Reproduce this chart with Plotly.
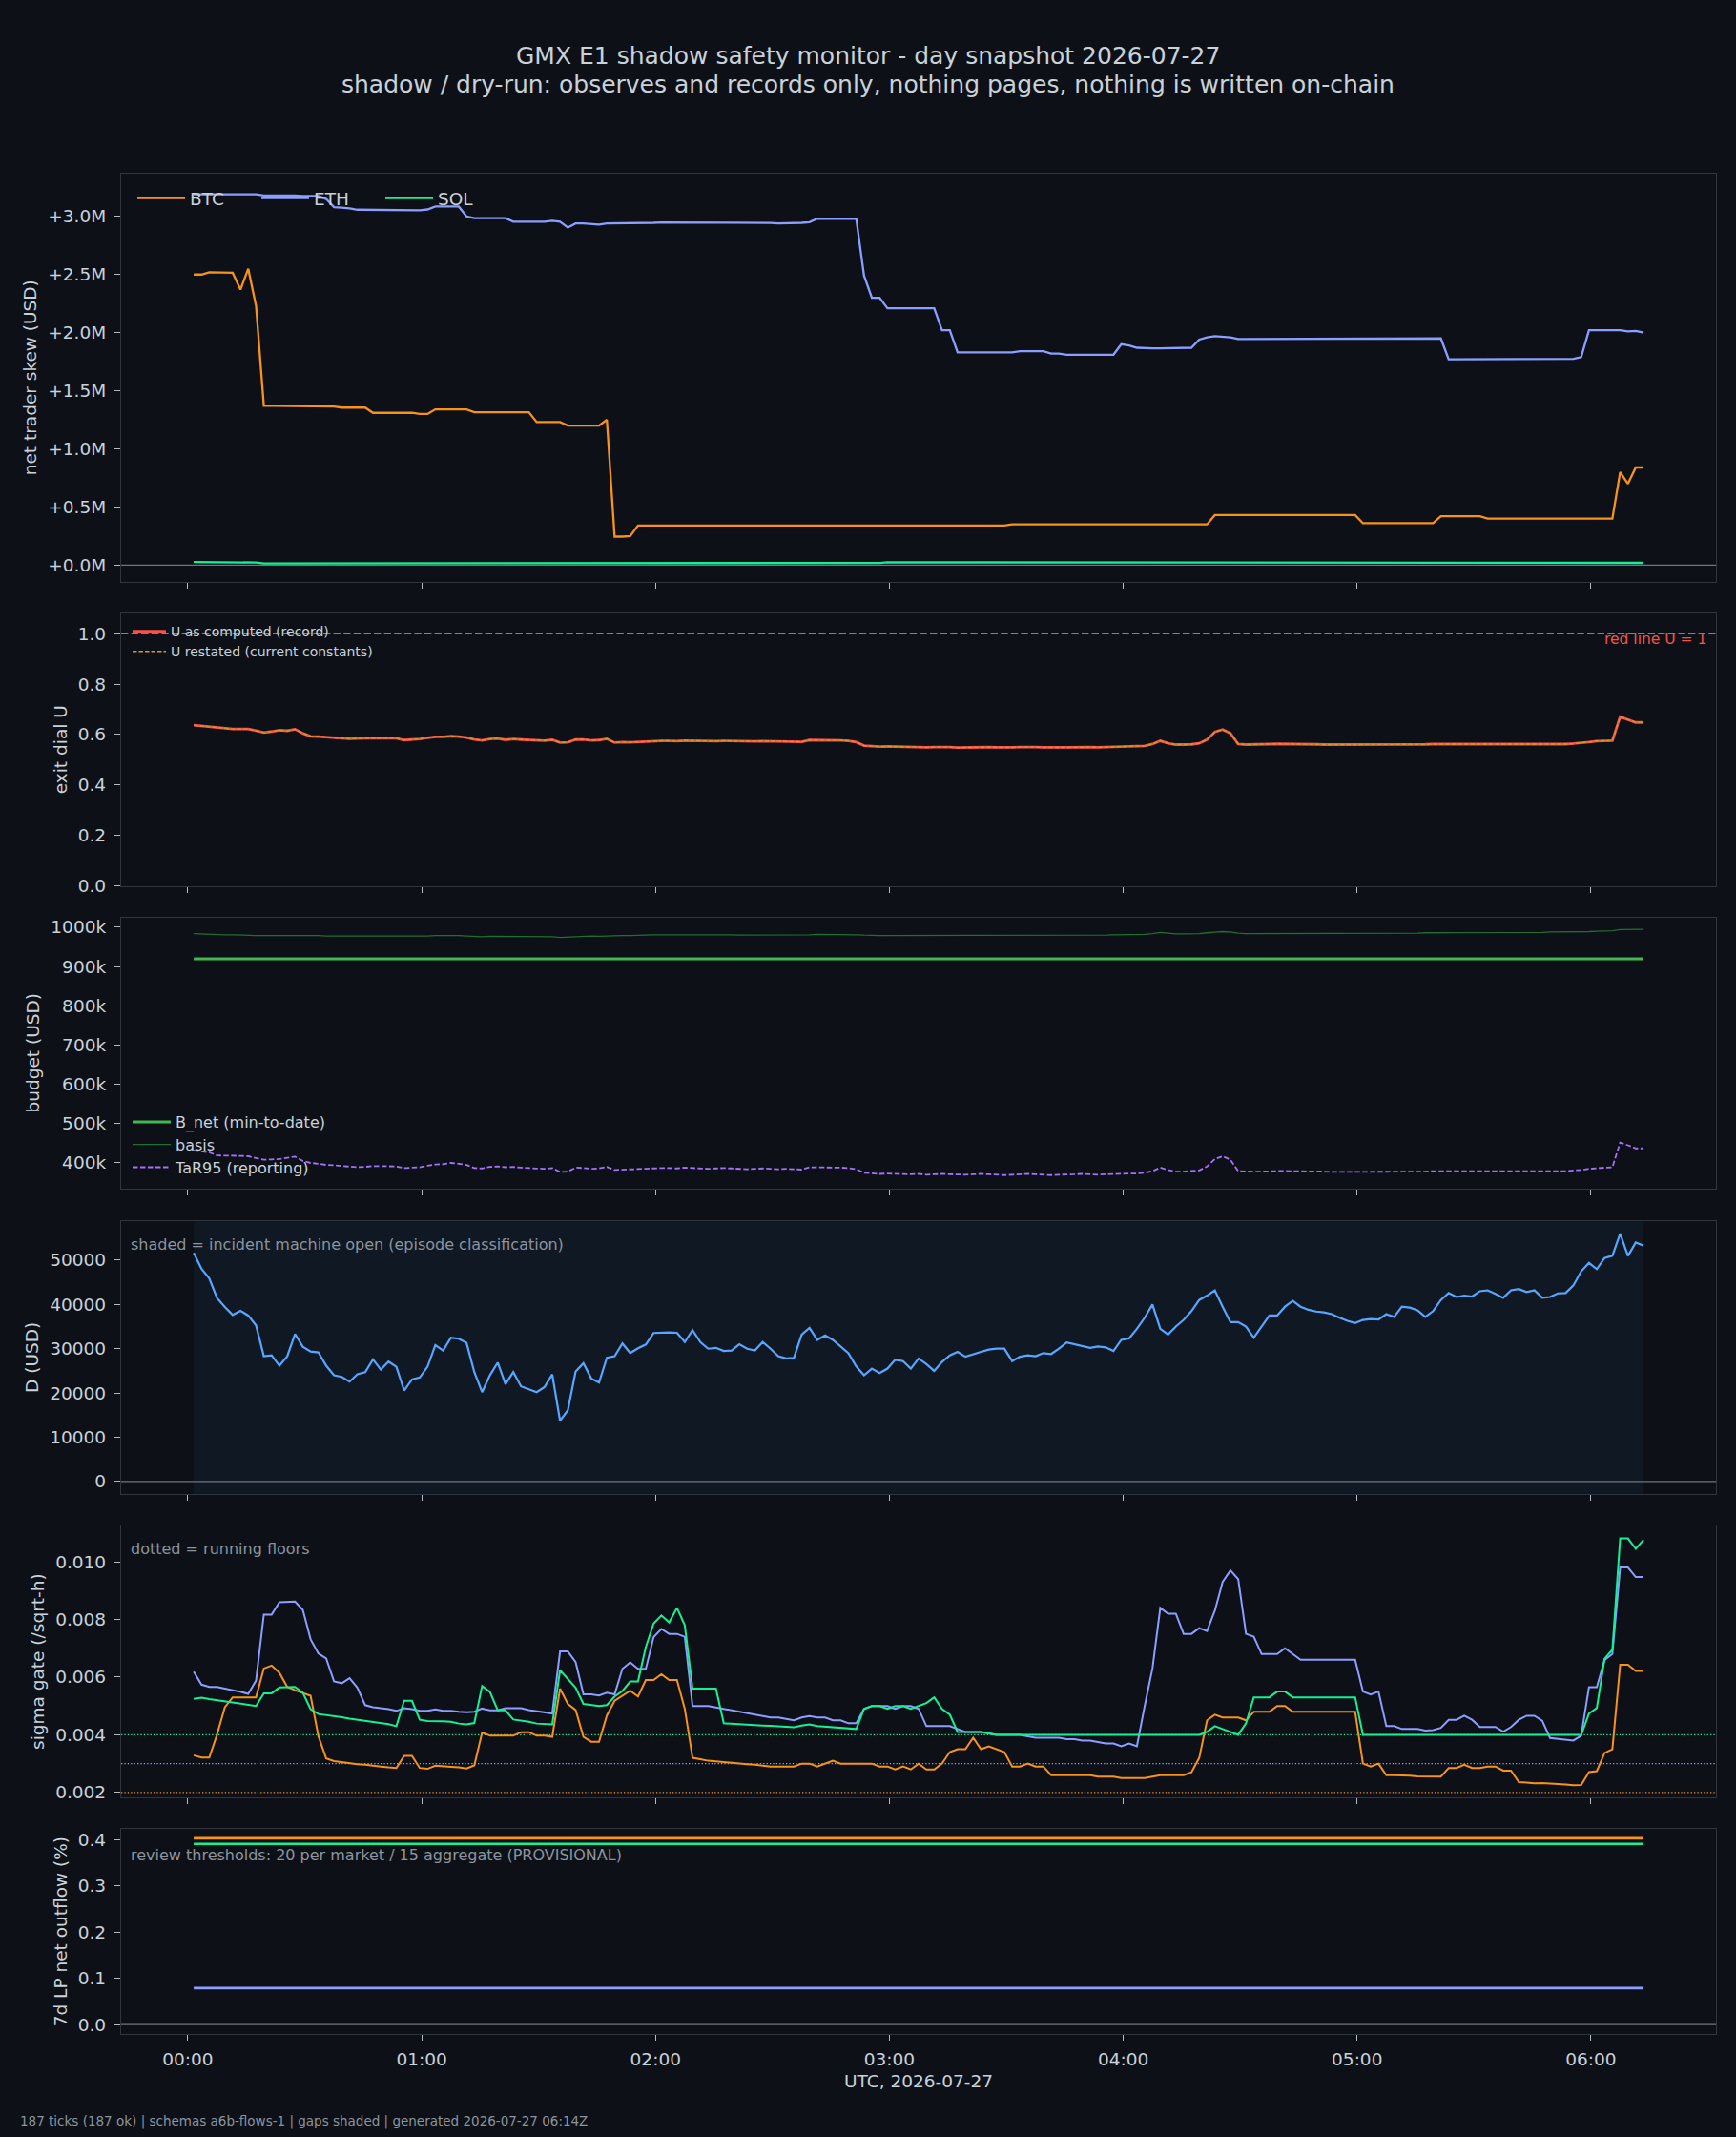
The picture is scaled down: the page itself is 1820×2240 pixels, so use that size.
import pandas as pd
import plotly.graph_objects as go
from plotly.subplots import make_subplots

# ---------------- data ----------------
TICK_START = "2026-07-27 00:01:30"
TICK_COUNT = 187
TICK_STEP = "2min"
TIMES = pd.date_range(TICK_START, periods=TICK_COUNT, freq=TICK_STEP)

X_RANGE = ["2026-07-26 23:42:53", "2026-07-27 06:32:05"]
HOUR_TICKS = ["2026-07-27 00:00", "2026-07-27 01:00", "2026-07-27 02:00", "2026-07-27 03:00",
              "2026-07-27 04:00", "2026-07-27 05:00", "2026-07-27 06:00"]
HOUR_LABELS = ["00:00", "01:00", "02:00", "03:00", "04:00", "05:00", "06:00"]

MARKETS = ["BTC", "ETH", "SOL"]

# net trader skew, millions of USD
BTC_SKEW_M = ([2.50, 2.50, 2.52, 2.52, 2.52, 2.515, 2.37, 2.55, 2.23, 1.37]
              + [1.37] * 7 + [1.365] * 2 + [1.355] * 4 + [1.31] * 6 + [1.30] * 2
              + [1.34] * 5 + [1.315] * 8 + [1.23] * 4 + [1.20] * 5 + [1.25]
              + [0.245, 0.245, 0.25] + [0.34] * 48 + [0.35] * 9 + [0.345] * 9
              + [0.35] * 8 + [0.43] * 19 + [0.36] * 10 + [0.42] * 6 + [0.40] * 17
              + [0.80, 0.70, 0.84, 0.84])
ETH_SKEW_M = ([3.19] * 9 + [3.18, 3.18, 3.18, 3.185, 3.18] + [3.175] * 3 + [3.15]
              + [3.08, 3.075, 3.07] + [3.058] * 6 + [3.053] * 3 + [3.06] + [3.085] * 4
              + [3.00] + [2.985] * 5 + [2.955] * 5 + [2.962, 2.955, 2.905]
              + [2.94, 2.94, 2.935, 2.93]
              + [2.94, 2.94, 2.94, 2.942, 2.945, 2.945, 2.945, 2.948, 2.948, 2.948,
                 2.947, 2.947, 2.947, 2.946, 2.946, 2.946, 2.945, 2.945, 2.945, 2.944,
                 2.944, 2.944, 2.94, 2.94, 2.945, 2.945, 2.95]
              + [2.98] * 6 + [2.49] + [2.30, 2.30] + [2.21] * 7 + [2.02, 2.02]
              + [1.83] * 8 + [1.84] * 4 + [1.82] * 2 + [1.81] * 7 + [1.90, 1.89]
              + [1.87, 1.865, 1.865, 1.865, 1.865, 1.865, 1.87, 1.87]
              + [1.94, 1.96, 1.97, 1.965, 1.96] + [1.945] * 5 + [1.95] * 22
              + [1.77] * 16 + [1.775, 1.79] + [2.02] * 5 + [2.01, 2.015, 2.00])
SOL_SKEW_M = [0.027] * 5 + [0.022] * 4 + [0.014] * 37 + [0.018] * 43 + [0.024] * 42 + [0.019] * 56

SKEW_TICKS = [0.0, 0.5, 1.0, 1.5, 2.0, 2.5, 3.0]
SKEW_LABELS = ["+0.0M", "+0.5M", "+1.0M", "+1.5M", "+2.0M", "+2.5M", "+3.0M"]

# exit dial U
U_RECORD = ([0.637, 0.634, 0.631, 0.626, 0.624, 0.622, 0.622, 0.622, 0.615, 0.608,
             0.612, 0.617, 0.615, 0.621, 0.605, 0.593, 0.592, 0.589, 0.587, 0.585,
             0.583, 0.584, 0.586, 0.586, 0.585, 0.586, 0.585, 0.578, 0.580, 0.582,
             0.587, 0.591, 0.591, 0.594, 0.592, 0.588, 0.580, 0.577, 0.582, 0.584,
             0.579, 0.582, 0.580, 0.578, 0.577, 0.576, 0.579, 0.568, 0.569, 0.580,
             0.580, 0.577, 0.578, 0.583, 0.568, 0.570, 0.569, 0.571, 0.573, 0.575,
             0.575]
            + [0.575, 0.574, 0.576, 0.575, 0.574, 0.573, 0.574, 0.575, 0.574, 0.573,
               0.572, 0.573, 0.574, 0.573, 0.572, 0.573, 0.572, 0.571]
            + [0.578, 0.578, 0.577, 0.578, 0.577, 0.575, 0.570]
            + [0.556, 0.553, 0.552, 0.553, 0.552]
            + [0.551, 0.550, 0.551, 0.549, 0.550, 0.551, 0.550, 0.548, 0.549, 0.550,
               0.551, 0.550, 0.549, 0.548, 0.549, 0.550, 0.551, 0.550, 0.549, 0.548,
               0.549, 0.549, 0.550, 0.551, 0.550, 0.549, 0.550, 0.551, 0.552, 0.553,
               0.552]
            + [0.555, 0.562, 0.575, 0.565, 0.560, 0.560, 0.561, 0.565, 0.580, 0.610,
               0.620, 0.605, 0.562, 0.560]
            + [0.560, 0.561, 0.562, 0.563, 0.563, 0.562, 0.562, 0.561, 0.561, 0.560,
               0.560, 0.559, 0.559, 0.560, 0.560, 0.560, 0.561, 0.561, 0.560, 0.559,
               0.560, 0.560, 0.561, 0.562, 0.562, 0.561, 0.561, 0.562, 0.562, 0.561,
               0.561, 0.560, 0.561, 0.561, 0.562, 0.561, 0.561, 0.560, 0.560, 0.561,
               0.562, 0.564, 0.566, 0.570, 0.574, 0.575]
            + [0.576, 0.670, 0.660, 0.648, 0.648])
U_RESTATED = list(U_RECORD)  # overlaps the record exactly in the picture
U_RED_LINE = 1.0
U_TICKS = [0.0, 0.2, 0.4, 0.6, 0.8, 1.0]

# budget, thousands of USD
B_NET_K = [920] * TICK_COUNT
BASIS_K = ([984, 983, 982, 982, 981, 981, 980, 980, 979, 979,
            979, 979, 980, 980, 979, 979, 979, 978, 978, 978,
            978, 978, 978, 978, 978, 978, 977, 977, 977, 977,
            978, 979, 979, 980, 979, 978, 977, 976, 977, 977,
            977, 976, 976, 976, 976, 976, 976, 974, 975, 977,
            978, 978, 977, 978, 978, 979, 979, 980, 980, 981,
            981]
           + [981, 981, 982, 982, 982, 981, 981, 981, 981, 980,
              980, 980, 981, 981, 981, 981, 980, 980, 981, 982,
              982, 982, 982, 981, 981, 980, 979, 979, 979, 979]
           + [979, 979, 979, 979, 979, 979, 979, 979, 980, 980,
              980, 980, 980, 980, 980, 980, 980, 980, 980, 980,
              980, 980, 980, 980, 980, 980, 980, 981, 981, 981,
              981]
           + [982, 984, 987, 985, 983, 983, 983, 984, 986, 988, 989, 988, 985, 984]
           + [984, 984, 984, 984, 984, 984, 984, 984, 984, 984,
              984, 985, 985, 985, 985, 985, 985, 985, 985, 985,
              985, 985, 986, 986, 986, 986, 986, 986, 986, 986,
              987, 987, 987, 987, 987, 987, 987, 987, 988, 988,
              988, 988, 989, 989, 990, 991]
           + [991, 994, 994, 995, 995])
TAR95_K = ([432, 430, 427, 419, 419, 418, 418, 417, 412, 408,
            409, 410, 413, 416, 405, 400, 398, 395, 394, 392,
            390, 389, 390, 392, 392, 391, 391, 387, 388, 389,
            393, 396, 397, 400, 398, 395, 387, 386, 390, 391,
            389, 390, 388, 387, 386, 385, 387, 377, 378, 388,
            387, 385, 386, 390, 382, 383, 384, 384, 386, 387,
            387]
           + [387, 386, 388, 387, 386, 385, 386, 387, 386, 385,
              384, 385, 386, 385, 384, 385, 384, 383]
           + [389, 389, 388, 389, 388, 387, 384]
           + [375, 373, 372, 373, 372]
           + [372, 371, 372, 370, 371, 372, 371, 370, 370, 371,
              372, 371, 370, 369, 370, 371, 372, 371, 370, 369,
              370, 370, 371, 372, 371, 370, 371, 372, 373, 373,
              373]
           + [375, 379, 388, 382, 378, 378, 379, 381, 391, 410, 417, 408, 379, 378]
           + [378, 378, 379, 380, 380, 379, 379, 378, 378, 378,
              377, 377, 377, 378, 378, 378, 378, 378, 378, 377,
              378, 378, 378, 379, 379, 378, 378, 379, 379, 378,
              378, 378, 378, 378, 379, 378, 378, 378, 378, 378,
              379, 381, 382, 385, 387, 388]
           + [389, 452, 445, 437, 437])
BUDGET_TICKS = [400, 500, 600, 700, 800, 900, 1000]
BUDGET_LABELS = ["400k", "500k", "600k", "700k", "800k", "900k", "1000k"]

# D (USD)
D_USD = [51650, 48060, 45900, 41450, 39440, 37640, 38580, 37500, 35270, 28300,
         28520, 26150, 28300, 33330, 30460, 29380, 29170, 26150, 24000, 23640,
         22560, 24210, 24710, 27590, 25290, 27080, 25930, 20550, 23060, 23490,
         25930, 30820, 29600, 32470, 32260, 31320, 24710, 20190, 23990, 26870,
         21980, 24710, 21480, 20900, 20190, 21340, 24210, 13720, 16090, 24860,
         26720, 23280, 22340, 27950, 28300, 31180, 29020, 30100, 30960, 33550,
         33690,
         33700, 33600, 31500, 34200, 31500, 30000, 30200, 29500, 29600, 31000,
         30000, 29600, 31500, 30000, 28300, 27800, 27900, 33200, 34700, 32000,
         33000, 32000, 30500, 29000, 26000, 24000, 25500, 24500, 25500, 27500,
         27200, 25500, 27800, 26500, 25000, 27000, 28500, 29300, 28200, 28800,
         29300, 29800, 30000, 30000, 27200, 28200, 28500, 28300, 29000, 28800,
         30000, 31400, 31000, 30500, 30200, 30500, 30300, 29500, 32000, 32300,
         34500, 37000, 40000, 34500, 33200, 35000, 36500, 38500, 41000, 42000,
         43200, 39500, 36000, 36000, 35000, 32500, 35000, 37500, 37500, 39500,
         40800, 39500, 38800, 38400, 38200, 37800, 37000, 36300, 35800, 36500,
         36700, 36600, 37800, 37200, 39500, 39300, 38700, 37200, 38500, 41000,
         42600, 41700, 42000, 41800, 43000, 43200, 42400, 41500, 43200, 43500,
         42800, 43200, 41500, 41700, 42500, 42600, 44300, 47500, 49400, 48000,
         50500, 51000, 56000, 51000, 54000, 53300]
D_TICKS = [0, 10000, 20000, 30000, 40000, 50000]

# sigma gate (/sqrt-h)
BTC_SIGMA = ([0.00329, 0.00321, 0.00321, 0.00401, 0.00496, 0.00530, 0.00530, 0.00530, 0.00530, 0.00630,
              0.00640, 0.00615, 0.00566, 0.00555, 0.00544, 0.00535, 0.00395, 0.00318, 0.00309, 0.00305,
              0.00301, 0.00298, 0.00296, 0.00294, 0.00290, 0.00287, 0.00285, 0.00327, 0.00327, 0.00285,
              0.00282, 0.00293, 0.00290, 0.00289, 0.00287, 0.00283, 0.00294, 0.00408, 0.00397, 0.00397,
              0.00397, 0.00397, 0.00409, 0.00409, 0.00397, 0.00397, 0.00393, 0.00560, 0.00507, 0.00486,
              0.00393, 0.00376, 0.00376, 0.00467, 0.00518, 0.00536, 0.00553, 0.00533, 0.00590, 0.00590,
              0.00610]
             + [0.0059, 0.0059, 0.0049, 0.0032, 0.00315, 0.0031, 0.00308, 0.00305, 0.00303, 0.0030,
                0.00298, 0.00296, 0.00293, 0.0029, 0.0029, 0.0029, 0.0029, 0.0030, 0.0030, 0.0029,
                0.0030, 0.0031, 0.0030, 0.0030, 0.0030, 0.0030, 0.0030, 0.0029, 0.0029, 0.0028,
                0.0029, 0.0028, 0.0030, 0.0028, 0.0028, 0.0030, 0.0034, 0.0035, 0.0035, 0.0039,
                0.0035, 0.0036, 0.0035, 0.0034, 0.0029, 0.0029, 0.0030, 0.0029, 0.0029, 0.0026,
                0.0026, 0.0026, 0.0026, 0.0026, 0.0026, 0.00255, 0.00255, 0.00255, 0.0025, 0.0025,
                0.0025, 0.0025, 0.00255, 0.0026, 0.0026, 0.0026, 0.0026, 0.0027, 0.0032, 0.0045,
                0.0047, 0.0046, 0.0046, 0.0046, 0.0045, 0.0048, 0.0048, 0.0048, 0.0050, 0.0050,
                0.0048, 0.0048, 0.0048, 0.0048, 0.0048, 0.0048, 0.0048, 0.0048, 0.0048, 0.0030,
                0.0029, 0.0030, 0.0026, 0.0026, 0.0026, 0.00258, 0.00256, 0.00256]
             + [0.00257, 0.00255, 0.00285, 0.00285, 0.00296, 0.00285, 0.00285, 0.0029, 0.0029, 0.00276,
                0.00276, 0.00236, 0.00234, 0.00232, 0.00233, 0.00232, 0.0023, 0.00228, 0.00225, 0.00226,
                0.00271, 0.00274, 0.00337, 0.0035, 0.00643, 0.00643, 0.00621, 0.00621])
ETH_SIGMA = ([0.00619, 0.00574, 0.00566, 0.00566, 0.00560, 0.00555, 0.00549, 0.00542, 0.00588, 0.00817,
              0.00817, 0.00860, 0.00860, 0.00862, 0.00833, 0.00731, 0.00682, 0.00665, 0.00585, 0.00579,
              0.00596, 0.00563, 0.00503, 0.00496, 0.00492, 0.00489, 0.00483, 0.00492, 0.00489, 0.00483,
              0.00483, 0.00488, 0.00483, 0.00483, 0.00480, 0.00478, 0.00480, 0.00491, 0.00485, 0.00485,
              0.00492, 0.00492, 0.00492, 0.00486, 0.00482, 0.00478, 0.00474, 0.00689, 0.00689, 0.00652,
              0.00540, 0.00540, 0.00536, 0.00546, 0.00540, 0.00629, 0.00651, 0.00629, 0.00629, 0.00739,
              0.00767]
             + [0.0075, 0.0075, 0.0074, 0.0050, 0.0050, 0.0050, 0.00495, 0.0049, 0.00485, 0.0048,
                0.00475, 0.0047, 0.00465, 0.0046, 0.0046, 0.00455, 0.0045, 0.0046, 0.00465, 0.0046,
                0.0046, 0.0045, 0.0045, 0.0044, 0.0044, 0.0049, 0.0050, 0.0050, 0.0050, 0.0049,
                0.0050, 0.0050, 0.0049, 0.0043, 0.0043, 0.0043, 0.0043, 0.0042, 0.0041, 0.0041,
                0.0041, 0.00405, 0.0040, 0.0040, 0.0040, 0.0040, 0.00395, 0.0039, 0.0039, 0.0039,
                0.0039, 0.00385, 0.00385, 0.0038, 0.0038, 0.00375, 0.0037, 0.0037, 0.0036, 0.0037,
                0.0036, 0.0050, 0.0063, 0.0084, 0.0082, 0.0082, 0.0075, 0.0075, 0.0077, 0.0076,
                0.0083, 0.0093, 0.0097, 0.0094, 0.0075, 0.0074, 0.0068, 0.0068, 0.0068, 0.0070,
                0.0068, 0.0066, 0.0066, 0.0066, 0.0066, 0.0066, 0.0066, 0.0066, 0.0066, 0.0055,
                0.0054, 0.0055, 0.0043, 0.0043, 0.0042, 0.0042, 0.0042, 0.00415]
             + [0.00416, 0.00424, 0.00452, 0.00452, 0.00466, 0.00452, 0.00427, 0.00427, 0.00427, 0.00411,
                0.00427, 0.00452, 0.00466, 0.00466, 0.00449, 0.00389, 0.00386, 0.00381, 0.00380, 0.00397,
                0.00565, 0.00565, 0.00660, 0.00680, 0.00980, 0.00980, 0.00947, 0.00947])
SOL_SIGMA = ([0.00525, 0.00529, 0.00524, 0.00520, 0.00516, 0.00511, 0.00507, 0.00505, 0.00500, 0.00544,
              0.00544, 0.00564, 0.00564, 0.00566, 0.00546, 0.00489, 0.00472, 0.00469, 0.00466, 0.00461,
              0.00456, 0.00452, 0.00447, 0.00444, 0.00441, 0.00437, 0.00430, 0.00518, 0.00518, 0.00452,
              0.00448, 0.00448, 0.00447, 0.00445, 0.00439, 0.00436, 0.00441, 0.00569, 0.00549, 0.00485,
              0.00485, 0.00453, 0.00450, 0.00445, 0.00439, 0.00437, 0.00436, 0.00624, 0.00593, 0.00563,
              0.00507, 0.00503, 0.00500, 0.00503, 0.00533, 0.00552, 0.00585, 0.00585, 0.00704, 0.00786,
              0.00814]
             + [0.0079, 0.0084, 0.0078, 0.0056, 0.0056, 0.0056, 0.0056, 0.0044, 0.00438, 0.00436,
                0.00435, 0.00434, 0.00432, 0.00431, 0.0043, 0.00428, 0.00426, 0.00432, 0.00436, 0.0043,
                0.00428, 0.00426, 0.00424, 0.00422, 0.0042, 0.0049, 0.0050, 0.0050, 0.0049, 0.0050,
                0.0050, 0.0049, 0.0050, 0.0051, 0.0053, 0.0049, 0.0047, 0.0041, 0.0041, 0.0041,
                0.0041, 0.00405, 0.0040, 0.0040, 0.0040, 0.0040, 0.0040, 0.0040, 0.0040, 0.0040,
                0.0040, 0.0040, 0.0040, 0.0040, 0.0040, 0.0040, 0.0040, 0.0040, 0.0040, 0.0040,
                0.0040, 0.0040, 0.0040, 0.0040, 0.0040, 0.0040, 0.0040, 0.0040, 0.0040, 0.0041,
                0.0043, 0.0042, 0.0041, 0.0040, 0.0044, 0.0053, 0.0053, 0.0053, 0.0055, 0.0055,
                0.0053, 0.0053, 0.0053, 0.0053, 0.0053, 0.0053, 0.0053, 0.0053, 0.0053, 0.0040,
                0.0040, 0.0040, 0.0040, 0.0040, 0.0040, 0.0040, 0.0040, 0.0040]
             + [0.0040] * 20
             + [0.00474, 0.00493, 0.00664, 0.00695, 0.01081, 0.01081, 0.01045, 0.01076])
SIGMA_FLOORS = {"BTC": 0.002, "ETH": 0.003, "SOL": 0.004}
SIGMA_TICKS = [0.002, 0.004, 0.006, 0.008, 0.010]

# 7d LP net outflow (%)
BTC_LP_OUT = [0.403] * TICK_COUNT
ETH_LP_OUT = [0.079] * TICK_COUNT
SOL_LP_OUT = [0.391] * TICK_COUNT
LP_TICKS = [0.0, 0.1, 0.2, 0.3, 0.4]

for name, arr in [("BTC_SKEW_M", BTC_SKEW_M), ("ETH_SKEW_M", ETH_SKEW_M), ("SOL_SKEW_M", SOL_SKEW_M),
                  ("U_RECORD", U_RECORD), ("BASIS_K", BASIS_K), ("TAR95_K", TAR95_K), ("D_USD", D_USD),
                  ("BTC_SIGMA", BTC_SIGMA), ("ETH_SIGMA", ETH_SIGMA), ("SOL_SIGMA", SOL_SIGMA)]:
    if len(arr) != TICK_COUNT:
        raise SystemExit("%s has %d values" % (name, len(arr)))

# ---------------- style ----------------
W, H = 1820, 2240
ML, MR, MT, MB = 127, 21, 181, 108
PLOT_W = W - ML - MR
PLOT_H = H - MT - MB

BG = "#0d1117"
FRAME = "#30363d"
TEXT = "#c9d1d9"
MUTED = "#8b949e"
TICKC = "#b1bac4"
FONT = "DejaVu Sans"
C = {"BTC": "#f7931a", "ETH": "#8c9eff", "SOL": "#14f195"}
RED = "#f85149"
GOLD = "#d29922"
BNET = "#3fb950"
BASIS = "#1f6f30"
TAR = "#a371f7"
DCOL = "#58a6ff"
ZERO = "#6e7681"


def px_x(x):
    return (x - ML) / PLOT_W


def px_y(y):
    return (H - MB - y) / PLOT_H


PANELS_PX = [(181.5, 610), (642.8, 928.7), (961.6, 1246), (1280, 1565.7), (1599, 1884.3), (1917.3, 2132)]

fig = make_subplots(rows=6, cols=1, shared_xaxes=True, vertical_spacing=0.01)

sk = {"BTC": BTC_SKEW_M, "ETH": ETH_SKEW_M, "SOL": SOL_SKEW_M}
for m in MARKETS:
    fig.add_trace(go.Scatter(x=TIMES, y=sk[m], mode="lines", name=m, legend="legend",
                             line=dict(color=C[m], width=2.3)), row=1, col=1)

fig.add_trace(go.Scatter(x=TIMES, y=U_RECORD, mode="lines", name="U as computed (record)",
                         legend="legend2", line=dict(color=RED, width=2.8)), row=2, col=1)
fig.add_trace(go.Scatter(x=TIMES, y=U_RESTATED, mode="lines", name="U restated (current constants)",
                         legend="legend2", line=dict(color=GOLD, width=1.4, dash="4.5px,2px")), row=2, col=1)

fig.add_trace(go.Scatter(x=TIMES, y=B_NET_K, mode="lines", name="B_net (min-to-date)",
                         legend="legend3", line=dict(color=BNET, width=3)), row=3, col=1)
fig.add_trace(go.Scatter(x=TIMES, y=BASIS_K, mode="lines", name="basis",
                         legend="legend3", line=dict(color=BASIS, width=1.3)), row=3, col=1)
fig.add_trace(go.Scatter(x=TIMES, y=TAR95_K, mode="lines", name="TaR95 (reporting)",
                         legend="legend3", line=dict(color=TAR, width=1.8, dash="5.5px,2.5px")), row=3, col=1)

fig.add_trace(go.Scatter(x=TIMES, y=D_USD, mode="lines", name="D", showlegend=False,
                         line=dict(color=DCOL, width=2.2)), row=4, col=1)

sg = {"BTC": BTC_SIGMA, "ETH": ETH_SIGMA, "SOL": SOL_SIGMA}
for m in MARKETS:
    fig.add_trace(go.Scatter(x=TIMES, y=sg[m], mode="lines", name=m + " sigma", showlegend=False,
                             line=dict(color=C[m], width=2.0)), row=5, col=1)

lp = {"BTC": BTC_LP_OUT, "ETH": ETH_LP_OUT, "SOL": SOL_LP_OUT}
for m in MARKETS:
    fig.add_trace(go.Scatter(x=TIMES, y=lp[m], mode="lines", name=m + " LP", showlegend=False,
                             line=dict(color=C[m], width=2.6)), row=6, col=1)

# reference lines / shading
def hline(row, y, color, width, dash="solid"):
    xr = "x domain" if row == 1 else "x%d domain" % row
    yr = "y" if row == 1 else "y%d" % row
    fig.add_shape(type="line", xref=xr, yref=yr, x0=0, x1=1, y0=y, y1=y, layer="below",
                  line=dict(color=color, width=width, dash=dash))

hline(1, 0, ZERO, 1.2)
fig.add_shape(type="rect", xref="x4", yref="y4 domain", x0=TIMES[0], x1=TIMES[-1], y0=0, y1=1,
              layer="below", line=dict(width=0), fillcolor="rgba(56,139,253,0.055)")
hline(4, 0, ZERO, 1.2)
for m in MARKETS:
    hline(5, SIGMA_FLOORS[m], C[m], 1.2, "1.3px,2.1px")
hline(6, 0, ZERO, 1.2)
fig.add_shape(type="line", xref="x2 domain", yref="y2", x0=0, x1=1, y0=U_RED_LINE, y1=U_RED_LINE,
              layer="above", line=dict(color=RED, width=2, dash="7.4px,3.2px"))

# axes
ax_common = dict(showgrid=False, zeroline=False, showline=True, mirror=True, linecolor=FRAME,
                 linewidth=1.3, ticks="outside", ticklen=6, tickwidth=1, tickcolor=TICKC,
                 tickfont=dict(family=FONT, size=18.5, color=TEXT))
y_specs = [
    dict(range=[-0.145, 3.372], tickvals=SKEW_TICKS, ticktext=SKEW_LABELS, title="net trader skew (USD)"),
    dict(range=[0, 1.0805], tickvals=U_TICKS, tickformat=".1f", title="exit dial U"),
    dict(range=[334.4, 1025.2], tickvals=BUDGET_TICKS, ticktext=BUDGET_LABELS, title="budget (USD)"),
    dict(range=[-2780, 58840], tickvals=D_TICKS, tickformat="d", title="D (USD)"),
    dict(range=[0.00182, 0.01126], tickvals=SIGMA_TICKS, tickformat=".3f", title="sigma gate (/sqrt-h)"),
    dict(range=[-0.0202, 0.4228], tickvals=LP_TICKS, tickformat=".1f", title="7d LP net outflow (%)"),
]
for i, (spec, (top, bot)) in enumerate(zip(y_specs, PANELS_PX)):
    n = "" if i == 0 else str(i + 1)
    title = spec.pop("title")
    fig.layout["yaxis" + n].update(domain=[px_y(bot), px_y(top)],
                                   title=dict(text=title, font=dict(family=FONT, size=18.5, color=TEXT),
                                              standoff=6),
                                   ticklabelstandoff=5, **ax_common, **spec)
    fig.layout["xaxis" + n].update(range=X_RANGE, type="date", tickvals=HOUR_TICKS, ticktext=HOUR_LABELS,
                                   showticklabels=(i == 5), ticklabelstandoff=4, **ax_common)
fig.layout.xaxis6.title = dict(text="UTC, 2026-07-27", font=dict(family=FONT, size=18.5, color=TEXT),
                               standoff=6)

# text
def note(text, x, y, size, color, xanchor="left"):
    fig.add_annotation(text=text, xref="paper", yref="paper", x=px_x(x), y=px_y(y), showarrow=False,
                       xanchor=xanchor, yanchor="middle", font=dict(family=FONT, size=size, color=color))

note("GMX E1 shadow safety monitor - day snapshot 2026-07-27", 910, 58, 25, TEXT, "center")
note("shadow / dry-run: observes and records only, nothing pages, nothing is written on-chain",
     910, 89, 25, TEXT, "center")
note("red line U = 1", 1791, 670, 15.5, RED, "right")
note("shaded = incident machine open (episode classification)", 135, 1304, 16, MUTED)
note("dotted = running floors", 135, 1623, 16, MUTED)
note("review thresholds: 20 per market / 15 aggregate (PROVISIONAL)", 135, 1944, 16, MUTED)
note("187 ticks (187 ok) | schemas a6b-flows-1 | gaps shaded | generated 2026-07-27 06:14Z",
     19, 2223, 13.5, MUTED)

fig.update_layout(
    width=W, height=H, margin=dict(l=ML, r=MR, t=MT, b=MB),
    paper_bgcolor=BG, plot_bgcolor=BG,
    font=dict(family=FONT, color=TEXT),
    legend=dict(orientation="h", x=px_x(139), y=px_y(189), xanchor="left", yanchor="top",
                bgcolor="rgba(0,0,0,0)", font=dict(family=FONT, size=18.5, color=TEXT),
                entrywidth=65, itemwidth=50),
    legend2=dict(orientation="v", x=px_x(134), y=px_y(646), xanchor="left", yanchor="top",
                 bgcolor="rgba(0,0,0,0)", font=dict(family=FONT, size=14, color=TEXT), itemwidth=35),
    legend3=dict(orientation="v", x=px_x(134), y=px_y(1241), xanchor="left", yanchor="bottom",
                 bgcolor="rgba(0,0,0,0)", font=dict(family=FONT, size=16, color=TEXT), itemwidth=40),
)

fig.write_html("out.html")
